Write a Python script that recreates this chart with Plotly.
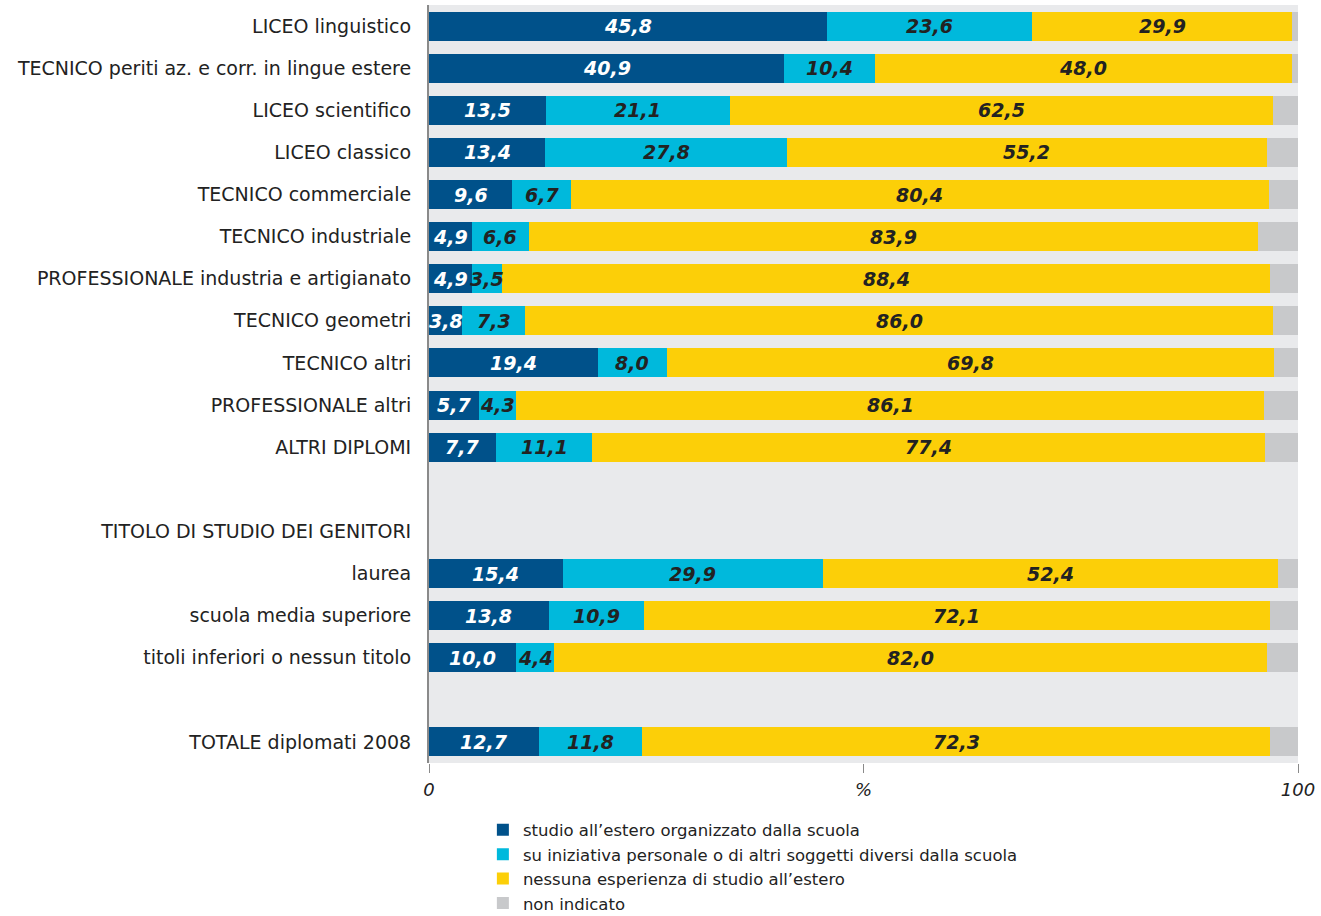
import plotly.graph_objects as go

categories = [
    "LICEO linguistico",
    "TECNICO periti az. e corr. in lingue estere",
    "LICEO scientifico",
    "LICEO classico",
    "TECNICO commerciale",
    "TECNICO industriale",
    "PROFESSIONALE industria e artigianato",
    "TECNICO geometri",
    "TECNICO altri",
    "PROFESSIONALE altri",
    "ALTRI DIPLOMI",
    "laurea",
    "scuola media superiore",
    "titoli inferiori o nessun titolo",
    "TOTALE diplomati 2008",
]
row_order = categories[:11] + [" ", "TITOLO DI STUDIO DEI GENITORI"] + categories[11:14] + ["  "] + categories[14:]

scuola = [45.8, 40.9, 13.5, 13.4, 9.6, 4.9, 4.9, 3.8, 19.4, 5.7, 7.7, 15.4, 13.8, 10.0, 12.7]
personale = [23.6, 10.4, 21.1, 27.8, 6.7, 6.6, 3.5, 7.3, 8.0, 4.3, 11.1, 29.9, 10.9, 4.4, 11.8]
nessuna = [29.9, 48.0, 62.5, 55.2, 80.4, 83.9, 88.4, 86.0, 69.8, 86.1, 77.4, 52.4, 72.1, 82.0, 72.3]
non_indicato = [0.7, 0.7, 2.9, 3.6, 3.3, 4.6, 3.2, 2.9, 2.8, 3.9, 3.8, 2.3, 3.2, 3.6, 3.2]

series = [
    ("studio all\u2019estero organizzato dalla scuola", scuola, "#00518a", "white"),
    ("su iniziativa personale o di altri soggetti diversi dalla scuola", personale, "#00b9dc", "#222222"),
    ("nessuna esperienza di studio all\u2019estero", nessuna, "#fccf08", "#222222"),
    ("non indicato", non_indicato, "#c8c9cb", None),
]

fig = go.Figure()
annotations = []
base = [0.0] * len(categories)
for name, vals, color, tcolor in series:
    fig.add_trace(go.Bar(
        name=name, y=categories, x=vals, orientation="h",
        marker=dict(color=color, line=dict(width=0)), width=0.69,
        hoverinfo="x+y",
    ))
    if tcolor:
        for i, (c, v) in enumerate(zip(categories, vals)):
            annotations.append(dict(
                x=base[i] + v / 2, y=c, xref="x", yref="y",
                text=f"{v:.1f}".replace(".", ","), showarrow=False,
                font=dict(family="DejaVu Sans", size=19, color=tcolor,
                          weight="bold", style="italic"),
            ))
    base = [b + v for b, v in zip(base, vals)]

fig.update_layout(
    barmode="stack",
    width=1321, height=916,
    margin=dict(l=429, r=23, t=5, b=153, autoexpand=False),
    paper_bgcolor="white",
    plot_bgcolor="#e9eaec",
    font=dict(family="DejaVu Sans", size=18, color="#222222"),
    annotations=annotations,
    legend=dict(
        orientation="v", x=0.062, xanchor="left",
        y=0.113, yref="container", yanchor="top",
        font=dict(size=16.5, color="#222222"), tracegroupgap=0,
        traceorder="normal", itemwidth=30,
    ),
    showlegend=True,
)
fig.update_yaxes(
    type="category", categoryorder="array", categoryarray=row_order,
    tickvals=row_order, ticktext=row_order,
    autorange=False, range=[len(row_order) - 0.5, -0.5],
    showgrid=False, showline=True, linecolor="#8a8a8a", linewidth=2,
    ticks="outside", ticklen=12, tickcolor="rgba(0,0,0,0)",
    tickfont=dict(size=19, color="#222222"),
)
fig.update_xaxes(
    range=[0, 100], tickvals=[0, 50, 100], ticktext=["0", "%", "100"],
    showgrid=False, zeroline=False, showline=False,
    ticks="outside", ticklen=9, tickcolor="#8a8a8a", tickwidth=1,
    ticklabelstandoff=1,
    tickfont=dict(size=18, style="italic", color="#222222"),
)
fig.write_html("out.html", config={"displayModeBar": False},
               post_script="document.body.style.margin='0';")
